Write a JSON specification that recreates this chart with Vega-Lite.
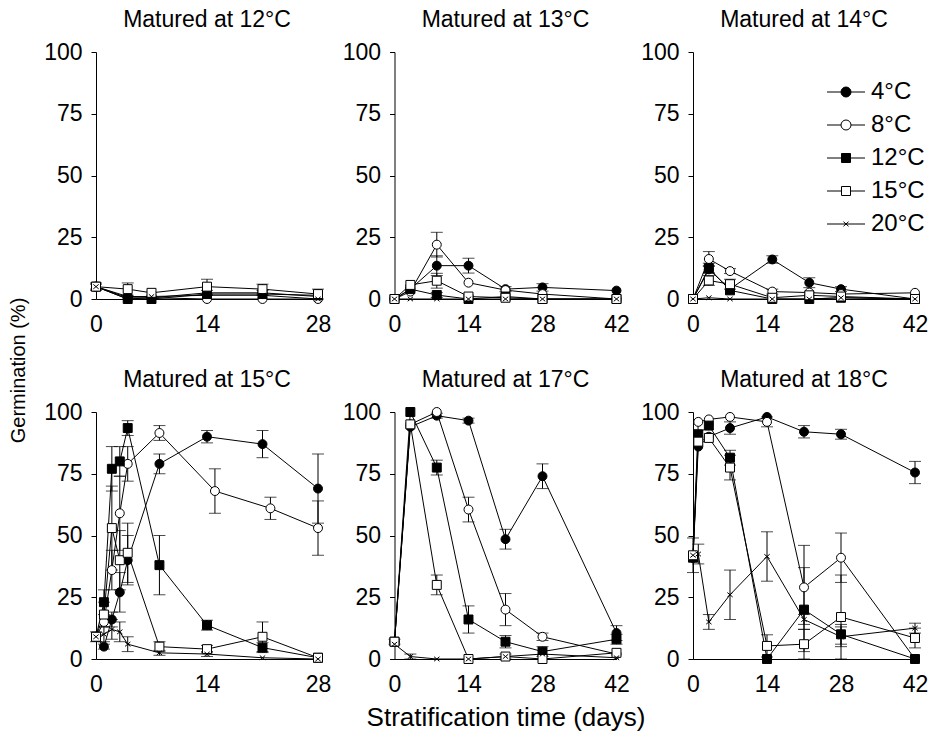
{
  "$schema": "https://vega.github.io/schema/vega-lite/v6.json",
  "background": "white",
  "padding": {"left": 8, "top": 9, "right": 2, "bottom": 2},
  "config": {
    "font": "Liberation Sans",
    "view": {"stroke": null},
    "axis": {"domainColor": "black", "domainWidth": 1, "tickColor": "black", "labelColor": "black", "labelFont": "Liberation Sans", "labelFontSize": 23, "labelFlush": false, "grid": false, "titleFont": "Liberation Sans", "titleFontSize": 26, "titleFontWeight": "normal", "titleColor": "black"},
    "title": {"font": "Liberation Sans", "fontSize": 23, "fontWeight": "normal", "color": "black"}
  },
  "datasets": {"d": [
    {"m":"12°C","s":"4°C","d":0,"g":5,"e":1},{"m":"12°C","s":"4°C","d":4,"g":0,"e":0},{"m":"12°C","s":"4°C","d":7,"g":0.5,"e":0},{"m":"12°C","s":"4°C","d":14,"g":2.5,"e":1},{"m":"12°C","s":"4°C","d":21,"g":2.5,"e":1},{"m":"12°C","s":"4°C","d":28,"g":1,"e":0},
    {"m":"12°C","s":"8°C","d":0,"g":5,"e":0},{"m":"12°C","s":"8°C","d":4,"g":0.5,"e":0},{"m":"12°C","s":"8°C","d":7,"g":0.5,"e":0},{"m":"12°C","s":"8°C","d":14,"g":0,"e":0},{"m":"12°C","s":"8°C","d":21,"g":0,"e":0},{"m":"12°C","s":"8°C","d":28,"g":0,"e":0},
    {"m":"12°C","s":"12°C","d":0,"g":5,"e":0},{"m":"12°C","s":"12°C","d":4,"g":0,"e":0},{"m":"12°C","s":"12°C","d":7,"g":0,"e":0},{"m":"12°C","s":"12°C","d":14,"g":2,"e":0},{"m":"12°C","s":"12°C","d":21,"g":2,"e":0},{"m":"12°C","s":"12°C","d":28,"g":1.5,"e":0},
    {"m":"12°C","s":"15°C","d":0,"g":5,"e":1.5},{"m":"12°C","s":"15°C","d":4,"g":4,"e":2.5},{"m":"12°C","s":"15°C","d":7,"g":2.5,"e":0},{"m":"12°C","s":"15°C","d":14,"g":5,"e":3},{"m":"12°C","s":"15°C","d":21,"g":4,"e":2},{"m":"12°C","s":"15°C","d":28,"g":2,"e":2},
    {"m":"12°C","s":"20°C","d":0,"g":5,"e":0},{"m":"12°C","s":"20°C","d":4,"g":1,"e":0},{"m":"12°C","s":"20°C","d":7,"g":1,"e":0},{"m":"12°C","s":"20°C","d":14,"g":1.5,"e":0},{"m":"12°C","s":"20°C","d":21,"g":1.5,"e":0},{"m":"12°C","s":"20°C","d":28,"g":0,"e":0},

    {"m":"13°C","s":"4°C","d":0,"g":0,"e":0},{"m":"13°C","s":"4°C","d":3,"g":4,"e":0},{"m":"13°C","s":"4°C","d":8,"g":13.5,"e":4},{"m":"13°C","s":"4°C","d":14,"g":13.5,"e":3},{"m":"13°C","s":"4°C","d":21,"g":4,"e":1},{"m":"13°C","s":"4°C","d":28,"g":4.7,"e":1.5},{"m":"13°C","s":"4°C","d":42,"g":3.4,"e":0},
    {"m":"13°C","s":"8°C","d":0,"g":0,"e":0},{"m":"13°C","s":"8°C","d":3,"g":3,"e":0},{"m":"13°C","s":"8°C","d":8,"g":22,"e":5},{"m":"13°C","s":"8°C","d":14,"g":6.6,"e":0},{"m":"13°C","s":"8°C","d":21,"g":3.6,"e":0},{"m":"13°C","s":"8°C","d":28,"g":2,"e":0},{"m":"13°C","s":"8°C","d":42,"g":0,"e":0},
    {"m":"13°C","s":"12°C","d":0,"g":0,"e":0},{"m":"13°C","s":"12°C","d":3,"g":4,"e":0},{"m":"13°C","s":"12°C","d":8,"g":1.6,"e":1},{"m":"13°C","s":"12°C","d":14,"g":0,"e":0},{"m":"13°C","s":"12°C","d":21,"g":1,"e":0},{"m":"13°C","s":"12°C","d":28,"g":0,"e":0},{"m":"13°C","s":"12°C","d":42,"g":0,"e":0},
    {"m":"13°C","s":"15°C","d":0,"g":0,"e":0},{"m":"13°C","s":"15°C","d":3,"g":5.7,"e":0},{"m":"13°C","s":"15°C","d":8,"g":7.4,"e":3},{"m":"13°C","s":"15°C","d":14,"g":1,"e":0},{"m":"13°C","s":"15°C","d":21,"g":0.5,"e":0},{"m":"13°C","s":"15°C","d":28,"g":0,"e":0},{"m":"13°C","s":"15°C","d":42,"g":0,"e":0},
    {"m":"13°C","s":"20°C","d":0,"g":0,"e":0},{"m":"13°C","s":"20°C","d":3,"g":0,"e":0},{"m":"13°C","s":"20°C","d":8,"g":0,"e":0},{"m":"13°C","s":"20°C","d":14,"g":0,"e":0},{"m":"13°C","s":"20°C","d":21,"g":0,"e":0},{"m":"13°C","s":"20°C","d":28,"g":0,"e":0},{"m":"13°C","s":"20°C","d":42,"g":0,"e":0},

    {"m":"14°C","s":"4°C","d":0,"g":0,"e":0},{"m":"14°C","s":"4°C","d":3,"g":12,"e":1.5},{"m":"14°C","s":"4°C","d":7,"g":4,"e":0},{"m":"14°C","s":"4°C","d":15,"g":16,"e":1.5},{"m":"14°C","s":"4°C","d":22,"g":6.6,"e":2},{"m":"14°C","s":"4°C","d":28,"g":4,"e":1},{"m":"14°C","s":"4°C","d":42,"g":0,"e":0},
    {"m":"14°C","s":"8°C","d":0,"g":0,"e":0},{"m":"14°C","s":"8°C","d":3,"g":16.2,"e":3},{"m":"14°C","s":"8°C","d":7,"g":11.3,"e":1},{"m":"14°C","s":"8°C","d":15,"g":3,"e":1},{"m":"14°C","s":"8°C","d":22,"g":2.6,"e":0},{"m":"14°C","s":"8°C","d":28,"g":2,"e":0},{"m":"14°C","s":"8°C","d":42,"g":2.5,"e":0},
    {"m":"14°C","s":"12°C","d":0,"g":0,"e":0},{"m":"14°C","s":"12°C","d":3,"g":12.5,"e":2},{"m":"14°C","s":"12°C","d":7,"g":3.5,"e":0},{"m":"14°C","s":"12°C","d":15,"g":0,"e":0},{"m":"14°C","s":"12°C","d":22,"g":0,"e":0},{"m":"14°C","s":"12°C","d":28,"g":0.5,"e":0},{"m":"14°C","s":"12°C","d":42,"g":0,"e":0},
    {"m":"14°C","s":"15°C","d":0,"g":0,"e":0},{"m":"14°C","s":"15°C","d":3,"g":7.5,"e":2},{"m":"14°C","s":"15°C","d":7,"g":6,"e":2},{"m":"14°C","s":"15°C","d":15,"g":0.5,"e":0},{"m":"14°C","s":"15°C","d":22,"g":1.5,"e":0},{"m":"14°C","s":"15°C","d":28,"g":1,"e":0},{"m":"14°C","s":"15°C","d":42,"g":0,"e":0},
    {"m":"14°C","s":"20°C","d":0,"g":0,"e":0},{"m":"14°C","s":"20°C","d":3,"g":0.5,"e":0},{"m":"14°C","s":"20°C","d":7,"g":0,"e":0},{"m":"14°C","s":"20°C","d":15,"g":0,"e":0},{"m":"14°C","s":"20°C","d":22,"g":0,"e":0},{"m":"14°C","s":"20°C","d":28,"g":0.5,"e":0},{"m":"14°C","s":"20°C","d":42,"g":0,"e":0},

    {"m":"15°C","s":"4°C","d":0,"g":9,"e":0},{"m":"15°C","s":"4°C","d":1,"g":5,"e":1},{"m":"15°C","s":"4°C","d":2,"g":16,"e":3},{"m":"15°C","s":"4°C","d":3,"g":27,"e":8},{"m":"15°C","s":"4°C","d":4,"g":40,"e":10},{"m":"15°C","s":"4°C","d":8,"g":79,"e":4},{"m":"15°C","s":"4°C","d":14,"g":90,"e":2.5},{"m":"15°C","s":"4°C","d":21,"g":87,"e":5.5},{"m":"15°C","s":"4°C","d":28,"g":69,"e":14},
    {"m":"15°C","s":"8°C","d":0,"g":9,"e":0},{"m":"15°C","s":"8°C","d":1,"g":15,"e":0},{"m":"15°C","s":"8°C","d":2,"g":36,"e":8},{"m":"15°C","s":"8°C","d":3,"g":59,"e":15},{"m":"15°C","s":"8°C","d":4,"g":79,"e":7},{"m":"15°C","s":"8°C","d":8,"g":91.5,"e":3},{"m":"15°C","s":"8°C","d":15,"g":68,"e":9},{"m":"15°C","s":"8°C","d":22,"g":61,"e":4.5},{"m":"15°C","s":"8°C","d":28,"g":53,"e":11},
    {"m":"15°C","s":"12°C","d":0,"g":9,"e":0},{"m":"15°C","s":"12°C","d":1,"g":23,"e":5},{"m":"15°C","s":"12°C","d":2,"g":77,"e":9},{"m":"15°C","s":"12°C","d":3,"g":80,"e":6},{"m":"15°C","s":"12°C","d":4,"g":93.5,"e":3},{"m":"15°C","s":"12°C","d":8,"g":38,"e":12},{"m":"15°C","s":"12°C","d":14,"g":13.7,"e":2},{"m":"15°C","s":"12°C","d":21,"g":4.6,"e":2},{"m":"15°C","s":"12°C","d":28,"g":0.5,"e":0},
    {"m":"15°C","s":"15°C","d":0,"g":9,"e":2},{"m":"15°C","s":"15°C","d":1,"g":18,"e":5},{"m":"15°C","s":"15°C","d":2,"g":53,"e":17},{"m":"15°C","s":"15°C","d":3,"g":40,"e":12},{"m":"15°C","s":"15°C","d":4,"g":43,"e":12},{"m":"15°C","s":"15°C","d":8,"g":5,"e":2},{"m":"15°C","s":"15°C","d":14,"g":4,"e":1.5},{"m":"15°C","s":"15°C","d":21,"g":9,"e":6},{"m":"15°C","s":"15°C","d":28,"g":0.5,"e":0},
    {"m":"15°C","s":"20°C","d":0,"g":9,"e":0},{"m":"15°C","s":"20°C","d":1,"g":10,"e":3},{"m":"15°C","s":"20°C","d":2,"g":12,"e":4},{"m":"15°C","s":"20°C","d":3,"g":11,"e":4},{"m":"15°C","s":"20°C","d":4,"g":6,"e":3},{"m":"15°C","s":"20°C","d":8,"g":2.5,"e":1},{"m":"15°C","s":"20°C","d":14,"g":2,"e":1},{"m":"15°C","s":"20°C","d":21,"g":0.5,"e":0},{"m":"15°C","s":"20°C","d":28,"g":0,"e":0},

    {"m":"17°C","s":"4°C","d":0,"g":7,"e":0},{"m":"17°C","s":"4°C","d":3,"g":94,"e":0},{"m":"17°C","s":"4°C","d":8,"g":98.5,"e":1},{"m":"17°C","s":"4°C","d":14,"g":96.5,"e":1},{"m":"17°C","s":"4°C","d":21,"g":48.5,"e":4},{"m":"17°C","s":"4°C","d":28,"g":74,"e":5},{"m":"17°C","s":"4°C","d":42,"g":10.5,"e":3},
    {"m":"17°C","s":"8°C","d":0,"g":7,"e":0},{"m":"17°C","s":"8°C","d":3,"g":95,"e":0},{"m":"17°C","s":"8°C","d":8,"g":100,"e":0},{"m":"17°C","s":"8°C","d":14,"g":60.5,"e":5},{"m":"17°C","s":"8°C","d":21,"g":20,"e":6.5},{"m":"17°C","s":"8°C","d":28,"g":9,"e":1.5},{"m":"17°C","s":"8°C","d":42,"g":2,"e":0},
    {"m":"17°C","s":"12°C","d":0,"g":7,"e":0},{"m":"17°C","s":"12°C","d":3,"g":100,"e":0},{"m":"17°C","s":"12°C","d":8,"g":77.5,"e":3},{"m":"17°C","s":"12°C","d":14,"g":16,"e":5.5},{"m":"17°C","s":"12°C","d":21,"g":7,"e":2.5},{"m":"17°C","s":"12°C","d":28,"g":3,"e":2},{"m":"17°C","s":"12°C","d":42,"g":8,"e":2},
    {"m":"17°C","s":"15°C","d":0,"g":7,"e":1},{"m":"17°C","s":"15°C","d":3,"g":95,"e":0},{"m":"17°C","s":"15°C","d":8,"g":30,"e":4},{"m":"17°C","s":"15°C","d":14,"g":0,"e":0},{"m":"17°C","s":"15°C","d":21,"g":1,"e":0},{"m":"17°C","s":"15°C","d":28,"g":0,"e":0},{"m":"17°C","s":"15°C","d":42,"g":2.5,"e":0},
    {"m":"17°C","s":"20°C","d":0,"g":6,"e":0},{"m":"17°C","s":"20°C","d":3,"g":1,"e":1},{"m":"17°C","s":"20°C","d":8,"g":0,"e":0},{"m":"17°C","s":"20°C","d":14,"g":0,"e":0},{"m":"17°C","s":"20°C","d":21,"g":1,"e":1},{"m":"17°C","s":"20°C","d":28,"g":2,"e":0},{"m":"17°C","s":"20°C","d":42,"g":0.5,"e":0},

    {"m":"18°C","s":"4°C","d":0,"g":41,"e":0},{"m":"18°C","s":"4°C","d":1,"g":86,"e":0},{"m":"18°C","s":"4°C","d":3,"g":90,"e":0},{"m":"18°C","s":"4°C","d":7,"g":93.5,"e":2.5},{"m":"18°C","s":"4°C","d":14,"g":98,"e":0},{"m":"18°C","s":"4°C","d":21,"g":92,"e":2.5},{"m":"18°C","s":"4°C","d":28,"g":91,"e":2},{"m":"18°C","s":"4°C","d":42,"g":75.5,"e":4.5},
    {"m":"18°C","s":"8°C","d":0,"g":41,"e":0},{"m":"18°C","s":"8°C","d":1,"g":96,"e":0},{"m":"18°C","s":"8°C","d":3,"g":97,"e":0},{"m":"18°C","s":"8°C","d":7,"g":98,"e":0},{"m":"18°C","s":"8°C","d":14,"g":96,"e":2},{"m":"18°C","s":"8°C","d":21,"g":29,"e":17},{"m":"18°C","s":"8°C","d":28,"g":41,"e":10},{"m":"18°C","s":"8°C","d":42,"g":0,"e":0},
    {"m":"18°C","s":"12°C","d":0,"g":41,"e":0},{"m":"18°C","s":"12°C","d":1,"g":91,"e":0},{"m":"18°C","s":"12°C","d":3,"g":94.5,"e":0},{"m":"18°C","s":"12°C","d":7,"g":81.5,"e":3},{"m":"18°C","s":"12°C","d":14,"g":0,"e":0},{"m":"18°C","s":"12°C","d":21,"g":20,"e":17},{"m":"18°C","s":"12°C","d":28,"g":10,"e":4},{"m":"18°C","s":"12°C","d":42,"g":0,"e":0},
    {"m":"18°C","s":"15°C","d":0,"g":42,"e":7},{"m":"18°C","s":"15°C","d":1,"g":88,"e":0},{"m":"18°C","s":"15°C","d":3,"g":89.5,"e":0},{"m":"18°C","s":"15°C","d":7,"g":77.5,"e":5},{"m":"18°C","s":"15°C","d":14,"g":5.3,"e":4.5},{"m":"18°C","s":"15°C","d":21,"g":6,"e":6},{"m":"18°C","s":"15°C","d":28,"g":17,"e":17},{"m":"18°C","s":"15°C","d":42,"g":8.5,"e":4},
    {"m":"18°C","s":"20°C","d":0,"g":42,"e":0},{"m":"18°C","s":"20°C","d":1,"g":42.5,"e":4},{"m":"18°C","s":"20°C","d":3,"g":15,"e":3},{"m":"18°C","s":"20°C","d":7,"g":26,"e":10},{"m":"18°C","s":"20°C","d":14,"g":41.5,"e":10},{"m":"18°C","s":"20°C","d":21,"g":16,"e":2},{"m":"18°C","s":"20°C","d":28,"g":9,"e":4},{"m":"18°C","s":"20°C","d":42,"g":12.5,"e":2}
  ]},
  "data": {"name": "d"},
  "columns": 3,
  "bounds": "flush",
  "spacing": {"row": 113, "column": 76.5},
  "resolve": {"scale": {"x": "independent", "y": "independent", "shape": "independent", "fill": "independent"}, "legend": {"shape": "independent", "fill": "independent"}, "axis": {"x": "independent", "y": "independent"}},
  "concat": [
    {"title": {"text": "Matured at 12°C", "offset": 9}, "width": 222, "height": 247,
     "transform": [{"filter": "datum.m === '12°C'"}],
     "layer": [
      {"mark": {"type": "line", "color": "black", "strokeWidth": 1}, "encoding": {"x": {"field": "d", "type": "quantitative", "scale": {"domain": [0, 28], "nice": false}, "axis": {"values": [0, 14, 28], "title": null, "ticks": false, "labelPadding": 14}}, "y": {"field": "g", "type": "quantitative", "title": "Germination (%)", "scale": {"domain": [0, 100]}, "axis": {"values": [0, 25, 50, 75, 100], "titleFontSize": 20, "titleAngle": 270, "titleAlign": "center", "titleBaseline": "bottom", "titleX": -68, "titleY": 318, "tickSize": 5, "labelPadding": 9}}, "detail": {"field": "s"}}},
      {"transform": [{"filter": "datum.e > 0"}], "mark": {"type": "errorbar", "color": "black", "ticks": {"size": 12, "color": "black"}}, "encoding": {"x": {"field": "d", "type": "quantitative"}, "y": {"field": "g", "type": "quantitative", "title": "Germination (%)"}, "yError": {"field": "e"}}},
      {"mark": {"type": "point", "stroke": "black", "strokeWidth": 1, "size": 80, "opacity": 1}, "encoding": {"x": {"field": "d", "type": "quantitative"}, "y": {"field": "g", "type": "quantitative", "title": "Germination (%)"},
        "shape": {"field": "s", "type": "nominal", "scale": {"domain": ["4°C", "8°C", "12°C", "15°C", "20°C"], "range": ["circle", "circle", "square", "square", "M-0.6,-0.5L0.6,0.5M-0.6,0.5L0.6,-0.5"]}, "legend": null},
        "fill": {"field": "s", "type": "nominal", "scale": {"domain": ["4°C", "8°C", "12°C", "15°C", "20°C"], "range": ["black", "white", "black", "white", "black"]}, "legend": null}}}
     ]},
    {"title": {"text": "Matured at 13°C", "offset": 9}, "width": 222, "height": 247,
     "transform": [{"filter": "datum.m === '13°C'"}],
     "layer": [
      {"mark": {"type": "line", "color": "black", "strokeWidth": 1}, "encoding": {"x": {"field": "d", "type": "quantitative", "scale": {"domain": [0, 42], "nice": false}, "axis": {"values": [0, 14, 28, 42], "title": null, "ticks": false, "labelPadding": 14}}, "y": {"field": "g", "type": "quantitative", "scale": {"domain": [0, 100]}, "axis": {"values": [0, 25, 50, 75, 100], "title": null, "tickSize": 5, "labelPadding": 9}}, "detail": {"field": "s"}}},
      {"transform": [{"filter": "datum.e > 0"}], "mark": {"type": "errorbar", "color": "black", "ticks": {"size": 12, "color": "black"}}, "encoding": {"x": {"field": "d", "type": "quantitative"}, "y": {"field": "g", "type": "quantitative"}, "yError": {"field": "e"}}},
      {"mark": {"type": "point", "stroke": "black", "strokeWidth": 1, "size": 80, "opacity": 1}, "encoding": {"x": {"field": "d", "type": "quantitative"}, "y": {"field": "g", "type": "quantitative"},
        "shape": {"field": "s", "type": "nominal", "scale": {"domain": ["4°C", "8°C", "12°C", "15°C", "20°C"], "range": ["circle", "circle", "square", "square", "M-0.6,-0.5L0.6,0.5M-0.6,0.5L0.6,-0.5"]}, "legend": null},
        "fill": {"field": "s", "type": "nominal", "scale": {"domain": ["4°C", "8°C", "12°C", "15°C", "20°C"], "range": ["black", "white", "black", "white", "black"]}, "legend": null}}}
     ]},
    {"title": {"text": "Matured at 14°C", "offset": 9}, "width": 222, "height": 247,
     "transform": [{"filter": "datum.m === '14°C'"}],
     "layer": [
      {"mark": {"type": "line", "color": "black", "strokeWidth": 1}, "encoding": {"x": {"field": "d", "type": "quantitative", "scale": {"domain": [0, 42], "nice": false}, "axis": {"values": [0, 14, 28, 42], "title": null, "ticks": false, "labelPadding": 14}}, "y": {"field": "g", "type": "quantitative", "scale": {"domain": [0, 100]}, "axis": {"values": [0, 25, 50, 75, 100], "title": null, "tickSize": 5, "labelPadding": 9}}, "detail": {"field": "s"}}},
      {"transform": [{"filter": "datum.e > 0"}], "mark": {"type": "errorbar", "color": "black", "ticks": {"size": 12, "color": "black"}}, "encoding": {"x": {"field": "d", "type": "quantitative"}, "y": {"field": "g", "type": "quantitative"}, "yError": {"field": "e"}}},
      {"mark": {"type": "point", "stroke": "black", "strokeWidth": 1, "size": 80, "opacity": 1},
       "encoding": {
        "x": {"field": "d", "type": "quantitative"},
        "y": {"field": "g", "type": "quantitative"},
        "shape": {
          "field": "s", "type": "nominal",
          "scale": {"domain": ["20°C", "15°C", "12°C", "8°C", "4°C"], "range": ["M-0.6,-0.5L0.6,0.5M-0.6,0.5L0.6,-0.5", "square", "square", "circle", "circle"]},
          "legend": null
        },
        "fill": {
          "field": "s", "type": "nominal",
          "scale": {"domain": ["4°C", "8°C", "12°C", "15°C", "20°C"], "range": ["black", "white", "black", "white", "black"]},
          "legend": {
            "title": null, "orient": "none", "legendX": 141, "legendY": 28, "padding": 0, "symbolSize": 100, "labelFontSize": 24, "labelFont": "Liberation Sans", "labelColor": "black", "labelOffset": 13, "rowPadding": 9, "symbolStrokeColor": "black", "symbolStrokeWidth": 1,
            "encoding": {
              "symbols": {
                "shape": {"condition": [{"test": "datum.value === '4°C' || datum.value === '8°C'", "value": "M-3.8,0H-1M-1,0A1,1,0,1,1,1,0A1,1,0,1,1,-1,0ZM1,0H3.8"}, {"test": "datum.value === '20°C'", "value": "M-3.8,0H3.8M-0.5,-0.45L0.5,0.45M-0.5,0.45L0.5,-0.45"}], "value": "M-3.8,0H-0.9M-0.9,-0.9H0.9V0.9H-0.9ZM0.9,0H3.8"},
                "stroke": {"value": "black"},
                "strokeWidth": {"value": 1},
                "opacity": {"value": 1}
              }
            }
          }
        }
       }
      }
     ]},
    {"title": {"text": "Matured at 15°C", "offset": 9}, "width": 222, "height": 247,
     "transform": [{"filter": "datum.m === '15°C'"}],
     "layer": [
      {"mark": {"type": "line", "color": "black", "strokeWidth": 1}, "encoding": {"x": {"field": "d", "type": "quantitative", "scale": {"domain": [0, 28], "nice": false}, "axis": {"values": [0, 14, 28], "title": null, "ticks": false, "labelPadding": 14}}, "y": {"field": "g", "type": "quantitative", "scale": {"domain": [0, 100]}, "axis": {"values": [0, 25, 50, 75, 100], "title": null, "tickSize": 5, "labelPadding": 9}}, "detail": {"field": "s"}}},
      {"transform": [{"filter": "datum.e > 0"}], "mark": {"type": "errorbar", "color": "black", "ticks": {"size": 12, "color": "black"}}, "encoding": {"x": {"field": "d", "type": "quantitative"}, "y": {"field": "g", "type": "quantitative"}, "yError": {"field": "e"}}},
      {"mark": {"type": "point", "stroke": "black", "strokeWidth": 1, "size": 80, "opacity": 1}, "encoding": {"x": {"field": "d", "type": "quantitative"}, "y": {"field": "g", "type": "quantitative"},
        "shape": {"field": "s", "type": "nominal", "scale": {"domain": ["4°C", "8°C", "12°C", "15°C", "20°C"], "range": ["circle", "circle", "square", "square", "M-0.6,-0.5L0.6,0.5M-0.6,0.5L0.6,-0.5"]}, "legend": null},
        "fill": {"field": "s", "type": "nominal", "scale": {"domain": ["4°C", "8°C", "12°C", "15°C", "20°C"], "range": ["black", "white", "black", "white", "black"]}, "legend": null}}}
     ]},
    {"title": {"text": "Matured at 17°C", "offset": 9}, "width": 222, "height": 247,
     "transform": [{"filter": "datum.m === '17°C'"}],
     "layer": [
      {"mark": {"type": "line", "color": "black", "strokeWidth": 1}, "encoding": {"x": {"field": "d", "type": "quantitative", "scale": {"domain": [0, 42], "nice": false}, "axis": {"values": [0, 14, 28, 42], "title": "Stratification time (days)", "titlePadding": 8, "ticks": false, "labelPadding": 14}}, "y": {"field": "g", "type": "quantitative", "scale": {"domain": [0, 100]}, "axis": {"values": [0, 25, 50, 75, 100], "title": null, "tickSize": 5, "labelPadding": 9}}, "detail": {"field": "s"}}},
      {"transform": [{"filter": "datum.e > 0"}], "mark": {"type": "errorbar", "color": "black", "ticks": {"size": 12, "color": "black"}}, "encoding": {"x": {"field": "d", "type": "quantitative"}, "y": {"field": "g", "type": "quantitative"}, "yError": {"field": "e"}}},
      {"mark": {"type": "point", "stroke": "black", "strokeWidth": 1, "size": 80, "opacity": 1}, "encoding": {"x": {"field": "d", "type": "quantitative"}, "y": {"field": "g", "type": "quantitative"},
        "shape": {"field": "s", "type": "nominal", "scale": {"domain": ["4°C", "8°C", "12°C", "15°C", "20°C"], "range": ["circle", "circle", "square", "square", "M-0.6,-0.5L0.6,0.5M-0.6,0.5L0.6,-0.5"]}, "legend": null},
        "fill": {"field": "s", "type": "nominal", "scale": {"domain": ["4°C", "8°C", "12°C", "15°C", "20°C"], "range": ["black", "white", "black", "white", "black"]}, "legend": null}}}
     ]},
    {"title": {"text": "Matured at 18°C", "offset": 9}, "width": 222, "height": 247,
     "transform": [{"filter": "datum.m === '18°C'"}],
     "layer": [
      {"mark": {"type": "line", "color": "black", "strokeWidth": 1}, "encoding": {"x": {"field": "d", "type": "quantitative", "scale": {"domain": [0, 42], "nice": false}, "axis": {"values": [0, 14, 28, 42], "title": null, "ticks": false, "labelPadding": 14}}, "y": {"field": "g", "type": "quantitative", "scale": {"domain": [0, 100]}, "axis": {"values": [0, 25, 50, 75, 100], "title": null, "tickSize": 5, "labelPadding": 9}}, "detail": {"field": "s"}}},
      {"transform": [{"filter": "datum.e > 0"}], "mark": {"type": "errorbar", "color": "black", "ticks": {"size": 12, "color": "black"}}, "encoding": {"x": {"field": "d", "type": "quantitative"}, "y": {"field": "g", "type": "quantitative"}, "yError": {"field": "e"}}},
      {"mark": {"type": "point", "stroke": "black", "strokeWidth": 1, "size": 80, "opacity": 1}, "encoding": {"x": {"field": "d", "type": "quantitative"}, "y": {"field": "g", "type": "quantitative"},
        "shape": {"field": "s", "type": "nominal", "scale": {"domain": ["4°C", "8°C", "12°C", "15°C", "20°C"], "range": ["circle", "circle", "square", "square", "M-0.6,-0.5L0.6,0.5M-0.6,0.5L0.6,-0.5"]}, "legend": null},
        "fill": {"field": "s", "type": "nominal", "scale": {"domain": ["4°C", "8°C", "12°C", "15°C", "20°C"], "range": ["black", "white", "black", "white", "black"]}, "legend": null}}}
     ]}
  ]
}
